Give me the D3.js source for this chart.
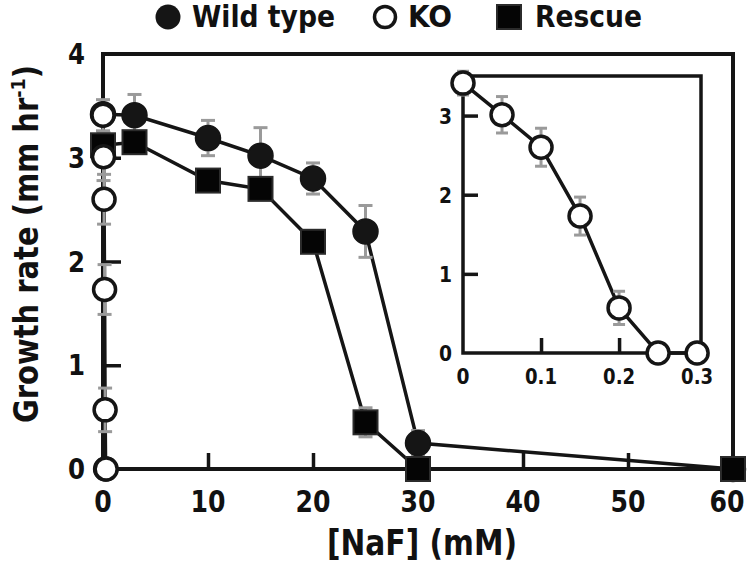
<!DOCTYPE html>
<html>
<head>
<meta charset="utf-8">
<script src="https://cdn.jsdelivr.net/npm/d3@7"></script>
<style>
  html, body { margin: 0; padding: 0; background: #fff; }
  svg text { font-family: "Liberation Sans Narrow", "DejaVu Sans Condensed", "Arial Narrow", "DejaVu Sans", sans-serif; font-weight: bold; fill: #111; }
</style>
</head>
<body>
<svg id="chart" width="752" height="568"></svg>
<script>
// ---------- data ----------
const wtX   = [0, 3, 10, 15, 20, 25, 30, 60];
const wtY   = [3.42, 3.41, 3.19, 3.02, 2.80, 2.29, 0.25, 0];
const wtErr = [0, 0.20, 0.17, 0.27, 0.15, 0.25, 0.12, 0];

const resX   = [0, 3, 10, 15, 20, 25, 30, 60];
const resY   = [3.12, 3.15, 2.78, 2.70, 2.19, 0.45, 0, 0];
const resErr = [0.10, 0.08, 0.10, 0.10, 0.10, 0.14, 0, 0];

const koX   = [0, 0.05, 0.10, 0.15, 0.20, 0.25, 0.30];
const koY   = [3.41, 3.01, 2.60, 1.73, 0.57, 0, 0];
const koErr = [0.15, 0.23, 0.24, 0.24, 0.21, 0, 0];

const mainXTicks = [0, 10, 20, 30, 40, 50, 60];
const mainYTicks = [0, 1, 2, 3, 4];
const insetXTicks = [0, 0.1, 0.2, 0.3];
const insetYTicks = [0, 1, 2, 3];

const legendLabels = ["Wild type", "KO", "Rescue"];
const xTitle = "[NaF] (mM)";
const yTitle = "Growth rate (mm hr";

// ---------- setup ----------
const svg = d3.select("#chart");
const INK = "#151515";
const GREY = "#9a9a9a";

const x = d3.scaleLinear().domain([0, 60]).range([103, 733]);
const y = d3.scaleLinear().domain([0, 4]).range([469, 54]);

const xi = d3.scaleLinear().domain([0, 0.305]).range([463, 701]);
const yi = d3.scaleLinear().domain([0, 3.5]).range([353, 76]);

const zip = (xs, ys, es) => xs.map((v, i) => ({x: v, y: ys[i], e: es[i]}));
const wt = zip(wtX, wtY, wtErr);
const res = zip(resX, resY, resErr);
const ko = zip(koX, koY, koErr);

function condense(sel, digitW, dotW) {
  sel.attr("lengthAdjust", "spacingAndGlyphs")
     .attr("textLength", d => String(d).split("").reduce((a, c) => a + (c === "." ? dotW : digitW), 0));
}

// ---------- main frame ----------
const [x0, x1] = x.range();
const [y0, y1] = y.range();
svg.append("rect")
  .attr("x", x0).attr("y", y1).attr("width", x1 - x0).attr("height", y0 - y1)
  .attr("fill", "none").attr("stroke", INK).attr("stroke-width", 4);

const xAxis = d3.axisTop(x).tickValues(mainXTicks.slice(1, -1)).tickSize(16).tickFormat("");
svg.append("g").attr("transform", `translate(0,${y0})`).call(xAxis)
  .call(g => g.select(".domain").remove())
  .call(g => g.selectAll("line").attr("stroke", INK).attr("stroke-width", 3.5));
const yAxis = d3.axisRight(y).tickValues(mainYTicks.slice(1, -1)).tickSize(18).tickFormat("");
svg.append("g").attr("transform", `translate(${x0},0)`).call(yAxis)
  .call(g => g.select(".domain").remove())
  .call(g => g.selectAll("line").attr("stroke", INK).attr("stroke-width", 3.5));

svg.append("g").selectAll("text").data(mainXTicks).join("text")
  .attr("x", d => x(d)).attr("dx", (d, i) => i === mainXTicks.length - 1 ? -6 : 0)
  .attr("y", 512).attr("text-anchor", "middle")
  .attr("font-size", 31).text(d => d).call(condense, 17.5, 7);
svg.append("g").selectAll("text").data(mainYTicks).join("text")
  .attr("x", 85).attr("y", d => y(d) + 10).attr("text-anchor", "end")
  .attr("font-size", 28).text(d => d).call(condense, 17, 7);

svg.append("text").attr("x", 422).attr("y", 555).attr("text-anchor", "middle")
  .attr("font-size", 35).attr("textLength", 190).attr("lengthAdjust", "spacingAndGlyphs")
  .text(xTitle);
const yt = svg.append("text").attr("transform", "translate(38,244) rotate(-90)")
  .attr("text-anchor", "middle").attr("font-size", 33)
  .attr("textLength", 358).attr("lengthAdjust", "spacingAndGlyphs");
yt.append("tspan").text(yTitle);
yt.append("tspan").attr("font-size", 20).attr("dy", -13).text("-1");
yt.append("tspan").attr("dy", 13).text(")");

// ---------- main series ----------
const lineMain = d3.line().x(d => x(d.x)).y(d => y(d.y));
[wt, res, ko].forEach(s => {
  svg.append("path").datum(s).attr("d", lineMain)
    .attr("fill", "none").attr("stroke", INK).attr("stroke-width", 3.5);
});

function errorBars(g, data, xs, ys, cap) {
  const eb = g.append("g").attr("stroke", GREY).attr("stroke-width", 3);
  data.filter(d => d.e > 0).forEach(d => {
    const cx = xs(d.x), top = ys(d.y + d.e), bot = ys(d.y - d.e);
    eb.append("line").attr("x1", cx).attr("x2", cx).attr("y1", top).attr("y2", bot);
    eb.append("line").attr("x1", cx - cap).attr("x2", cx + cap).attr("y1", top).attr("y2", top);
    eb.append("line").attr("x1", cx - cap).attr("x2", cx + cap).attr("y1", bot).attr("y2", bot);
  });
}
errorBars(svg, wt, x, y, 7);
errorBars(svg, res, x, y, 7);
errorBars(svg, ko, x, y, 7);

svg.append("g").selectAll("circle").data(wt).join("circle")
  .attr("cx", d => x(d.x)).attr("cy", d => y(d.y)).attr("r", 12.5)
  .attr("fill", INK).attr("stroke", INK).attr("stroke-width", 1.5);
svg.append("g").selectAll("rect").data(res).join("rect")
  .attr("x", d => x(d.x) - 12).attr("y", d => y(d.y) - 12)
  .attr("width", 24).attr("height", 24)
  .attr("fill", "#050505").attr("stroke", "#2b2b2b").attr("stroke-width", 2);
svg.append("g").selectAll("circle").data(ko).join("circle")
  .attr("cx", d => x(d.x)).attr("cy", d => y(d.y)).attr("r", 11)
  .attr("fill", "#fff").attr("stroke", INK).attr("stroke-width", 3.5);

// ---------- inset ----------
const [ix0, ix1] = xi.range();
const [iy0, iy1] = yi.range();
const inset = svg.append("g");
inset.append("rect")
  .attr("x", ix0).attr("y", iy1).attr("width", ix1 - ix0).attr("height", iy0 - iy1)
  .attr("fill", "#fff").attr("stroke", INK).attr("stroke-width", 3.5);
inset.append("g").attr("transform", `translate(0,${iy0})`)
  .call(d3.axisTop(xi).tickValues(insetXTicks.slice(1, -1)).tickSize(15).tickFormat(""))
  .call(g => g.select(".domain").remove())
  .call(g => g.selectAll("line").attr("stroke", INK).attr("stroke-width", 3.5));
inset.append("g").attr("transform", `translate(${ix0},0)`)
  .call(d3.axisRight(yi).tickValues(insetYTicks.slice(1)).tickSize(15).tickFormat(""))
  .call(g => g.select(".domain").remove())
  .call(g => g.selectAll("line").attr("stroke", INK).attr("stroke-width", 3.5));
inset.append("g").selectAll("text").data(insetXTicks).join("text")
  .attr("x", d => xi(d)).attr("y", 384).attr("text-anchor", "middle")
  .attr("font-size", 22).text(d => d).call(condense, 13, 6);
inset.append("g").selectAll("text").data(insetYTicks).join("text")
  .attr("x", 452).attr("y", d => yi(d) + 8).attr("text-anchor", "end")
  .attr("font-size", 22).text(d => d).call(condense, 13, 6);

inset.append("path").datum(ko)
  .attr("d", d3.line().x(d => xi(d.x)).y(d => yi(d.y)))
  .attr("fill", "none").attr("stroke", INK).attr("stroke-width", 3.5);
errorBars(inset, ko, xi, yi, 6);
inset.append("g").selectAll("circle").data(ko).join("circle")
  .attr("cx", d => xi(d.x)).attr("cy", d => yi(d.y)).attr("r", 11)
  .attr("fill", "#fff").attr("stroke", INK).attr("stroke-width", 3.5);

// ---------- legend ----------
const lg = svg.append("g");
lg.append("circle").attr("cx", 168).attr("cy", 17).attr("r", 12.5).attr("fill", INK);
lg.append("text").attr("x", 192).attr("y", 27).attr("font-size", 30)
  .attr("textLength", 143).attr("lengthAdjust", "spacingAndGlyphs").text(legendLabels[0]);
lg.append("circle").attr("cx", 385).attr("cy", 17).attr("r", 10.5)
  .attr("fill", "#fff").attr("stroke", INK).attr("stroke-width", 3.5);
lg.append("text").attr("x", 408).attr("y", 27).attr("font-size", 30)
  .attr("textLength", 44).attr("lengthAdjust", "spacingAndGlyphs").text(legendLabels[1]);
lg.append("rect").attr("x", 497).attr("y", 5).attr("width", 24).attr("height", 24)
  .attr("fill", "#050505").attr("stroke", "#2b2b2b").attr("stroke-width", 2);
lg.append("text").attr("x", 535).attr("y", 27).attr("font-size", 30)
  .attr("textLength", 107).attr("lengthAdjust", "spacingAndGlyphs").text(legendLabels[2]);
</script>
</body>
</html>
